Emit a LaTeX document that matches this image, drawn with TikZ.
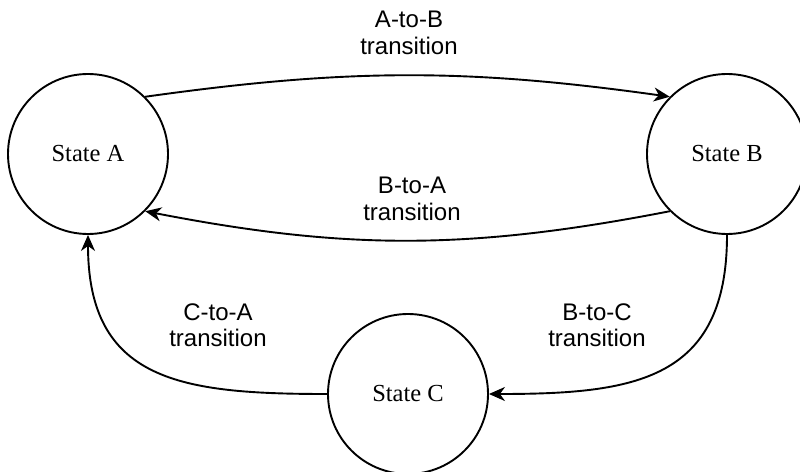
\documentclass[tikz,border=0pt]{standalone}
\usepackage{fontspec}
\setmainfont{Liberation Serif}
\newfontfamily\labelfont{Liberation Sans}
\usetikzlibrary{arrows.meta}

\begin{document}
\begin{tikzpicture}[x=1pt,y=1pt,
    state/.style={circle,draw,line width=1.9pt,minimum size=160pt,inner sep=0pt,
      font=\fontsize{24.5}{28}\selectfont},
    trans/.style={align=center,font=\labelfont\fontsize{24}{26.5}\selectfont},
    edge/.style={line width=1.9pt,-{Stealth[length=16pt,width=14pt,inset=5pt]}}]
  \useasboundingbox (0,0) rectangle (800,471);

  \node [state] (a) at (88,317) {State A};
  \node [state] (b) at (727,317) {State B};
  \node [state] (c) at (408,77) {State C};

  \node [trans] (ab) at (409,438) {A-to-B\\transition};
  \node [trans] (ba) at (412,272) {B-to-A\\transition};
  \node [trans] (ca) at (218,146) {C-to-A\\transition};
  \node [trans] (bc) at (597,146) {B-to-C\\transition};

  \draw [edge] (a.45) to[bend left=8] (b.135);
  \draw [edge] (b.225) to[bend left=11] (a.-45);
  \draw [edge] (b.south) to[out=-90,in=0,looseness=1.3] (c.east);
  \draw [edge] (c.west) to[out=180,in=-90,looseness=1.3] (a.south);
\end{tikzpicture}
\end{document}
